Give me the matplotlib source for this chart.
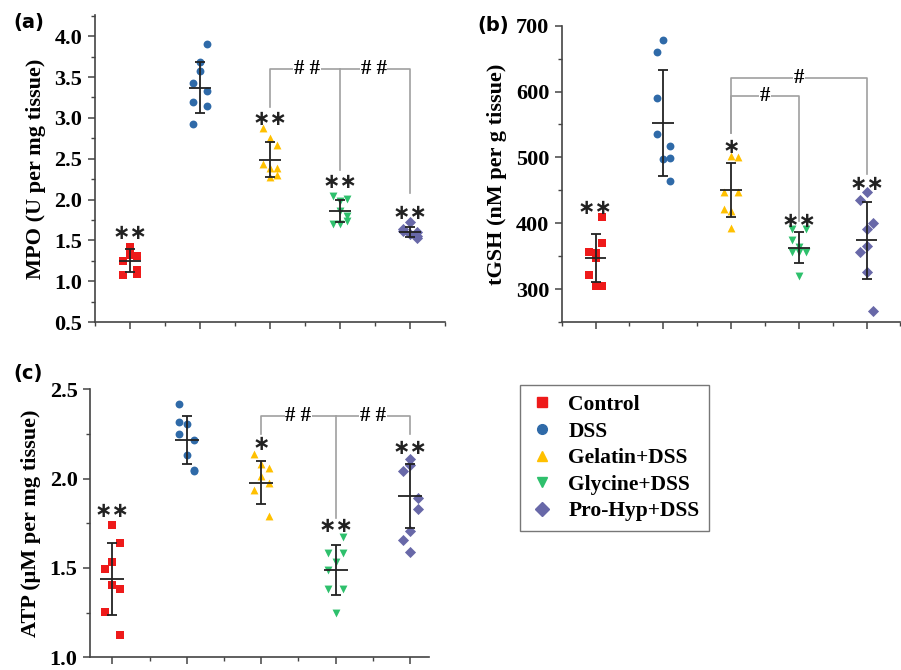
import numpy as np
import matplotlib
matplotlib.use("Agg")
import matplotlib.pyplot as plt
from matplotlib.ticker import MultipleLocator
from matplotlib.lines import Line2D

plt.rcParams['font.family'] = ['Liberation Serif', 'DejaVu Serif']
plt.rcParams['font.weight'] = 'bold'

groups = ["Control", "DSS", "Gelatin+DSS", "Glycine+DSS", "Pro-Hyp+DSS"]
colors = ["#EE1A1A", "#2F6AA8", "#FFC000", "#2EC06C", "#6868A8"]
markers = ["s", "o", "^", "v", "D"]

# (a) MPO, U per mg tissue
mpo_pts = [
    [1.42, 1.32, 1.31, 1.25, 1.14, 1.09, 1.07],
    [3.90, 3.69, 3.58, 3.43, 3.33, 3.20, 3.14, 2.92],
    [2.87, 2.75, 2.67, 2.43, 2.39, 2.39, 2.28, 2.30],
    [2.04, 2.01, 1.98, 1.86, 1.80, 1.74, 1.70, 1.70],
    [1.72, 1.64, 1.62, 1.60, 1.58, 1.55, 1.53],
]
mpo_mean = [1.25, 3.37, 2.49, 1.86, 1.60]
mpo_sd = [0.14, 0.31, 0.22, 0.135, 0.06]
mpo_sig = ["∗∗", "", "∗∗", "∗∗", "∗∗"]

# (b) tGSH, nM per g tissue
gsh_pts = [
    [410, 370, 357, 355, 347, 322, 304, 304],
    [678, 660, 590, 535, 517, 499, 497, 464],
    [502, 500, 448, 447, 422, 418, 393],
    [392, 392, 374, 364, 356, 356, 356, 320],
    [447, 436, 400, 392, 365, 356, 326, 267],
]
gsh_mean = [347, 552, 451, 363, 374]
gsh_sd = [36, 80, 41, 23, 58]
gsh_sig = ["∗∗", "", "∗", "∗∗", "∗∗"]

# (c) ATP, uM per mg tissue
atp_pts = [
    [1.738, 1.637, 1.534, 1.493, 1.405, 1.383, 1.253, 1.124],
    [2.415, 2.318, 2.307, 2.248, 2.216, 2.134, 2.049, 2.040],
    [2.137, 2.084, 2.060, 2.014, 1.977, 1.935, 1.788],
    [1.674, 1.586, 1.586, 1.534, 1.490, 1.380, 1.380, 1.249],
    [2.110, 2.078, 2.040, 1.889, 1.830, 1.705, 1.656, 1.590],
]
atp_mean = [1.438, 2.216, 1.976, 1.486, 1.904]
atp_sd = [0.20, 0.132, 0.12, 0.14, 0.18]
atp_sig = ["∗∗", "", "∗", "∗∗", "∗∗"]

# horizontal jitter of the points inside each group
mpo_dx = [[0, 0, 1, -1, 1, 1, -1],
          [1, 0, 0, -1, 1, -1, 1, -1],
          [-1, 0, 1, -1, 0, 1, 0, 1],
          [-1, 1, 0, 0, 1, 1, -1, 0],
          [0, -1, -1, 1, 0, 1, 1]]
gsh_dx = [[1, 1, -1, 0, 0, -1, 0, 1],
          [0, -1, -1, -1, 1, 1, 0, 1],
          [0, 1, -1, 1, -1, 0, 0],
          [-1, 1, -1, 0, -1, 0, 1, 0],
          [0, -1, 1, 0, 0, -1, 0, 1]]
atp_dx = [[0, 1, 0, -1, 0, 1, -1, 1],
          [-1, -1, 0, -1, 1, 0, 1, 1],
          [-1, 0, 1, 0, 1, -1, 1],
          [1, 1, -1, 0, -1, -1, 1, 0],
          [0, 0, -1, 1, 1, 0, -1, 0]]

LINE_GRAY = '#A0A0A0'
HASH_BOX = dict(facecolor='white', edgecolor='none', pad=0.5)


def draw_panel(ax, pts, dx, mean, sd, sig, sig_y, ylim, major, minor, ylabel):
    for i in range(5):
        x = i + 0.1 * np.array(dx[i])
        ax.scatter(x, pts[i], marker=markers[i], color=colors[i], s=32,
                   linewidths=0, zorder=3)
        ax.errorbar(i, mean[i], yerr=sd[i], fmt='none', ecolor='#222222',
                    elinewidth=1.3, capsize=3.5, capthick=1.3, zorder=4)
        ax.hlines(mean[i], i - 0.16, i + 0.16, color='#222222', lw=1.3, zorder=4)
        if sig[i]:
            ax.text(i, sig_y[i], sig[i], ha='center', va='center', fontsize=15,
                    family='DejaVu Sans', weight='bold', color='#222222', zorder=5)
    ax.set_xlim(-0.5, 4.5)
    ax.set_ylim(*ylim)
    ax.set_xticks(range(5))
    ax.set_xticklabels([])
    ax.xaxis.set_minor_locator(MultipleLocator(0.5))
    ax.yaxis.set_major_locator(MultipleLocator(major))
    ax.yaxis.set_minor_locator(MultipleLocator(minor))
    for s in ['top', 'right']:
        ax.spines[s].set_visible(False)
    for s in ['left', 'bottom']:
        ax.spines[s].set_color('#444444')
        ax.spines[s].set_linewidth(1.2)
    ax.tick_params(which='major', direction='out', length=5, width=1.1,
                   color='#444444', labelsize=16, pad=4)
    ax.tick_params(which='minor', direction='out', length=3, width=1.0,
                   color='#444444')
    ax.set_ylabel(ylabel, fontsize=16, fontweight='bold', labelpad=6)


def hash_label(ax, x, y, label):
    ax.text(x, y, label, ha='center', va='center', fontsize=15, weight='bold',
            bbox=HASH_BOX, zorder=3)


def bracket(ax, x0, x1, y, y0, y1, label, xt):
    ax.plot([x0, x0, x1, x1], [y0, y, y, y1], color=LINE_GRAY, lw=1.2, zorder=2)
    hash_label(ax, xt, y, label)


fig = plt.figure(figsize=(9.01, 6.70), dpi=100)
ax_a = fig.add_axes([0.1054, 0.5194, 0.3885, 0.4582])
ax_b = fig.add_axes([0.6234, 0.5194, 0.3760, 0.4422])
ax_c = fig.add_axes([0.0999, 0.0190, 0.3760, 0.4000])

draw_panel(ax_a, mpo_pts, mpo_dx, mpo_mean, mpo_sd, mpo_sig,
           [1.59, 0, 2.99, 2.21, 1.84], (0.5, 4.26), 0.5, 0.25,
           "MPO (U per mg tissue)")
bracket(ax_a, 2, 4, 3.60, 3.13, 2.08, "# #", 2.53)
ax_a.plot([3, 3], [3.60, 2.36], color=LINE_GRAY, lw=1.2, zorder=2)
hash_label(ax_a, 3.48, 3.60, "# #")

draw_panel(ax_b, gsh_pts, gsh_dx, gsh_mean, gsh_sd, gsh_sig,
           [423, 0, 516, 403, 459], (250, 700), 100, 50,
           "tGSH (nM per g tissue)")
bracket(ax_b, 2, 4, 621, 537, 475, "#", 3.0)
bracket(ax_b, 2, 3, 593, 537, 404, "#", 2.5)

draw_panel(ax_c, atp_pts, atp_dx, atp_mean, atp_sd, atp_sig,
           [1.816, 0, 2.193, 1.733, 2.174], (1.0, 2.5), 0.5, 0.25,
           "ATP (μM per mg tissue)")
ax_c.set_xlim(-0.3, 4.25)
bracket(ax_c, 2, 4, 2.349, 2.248, 2.248, "# #", 2.5)
ax_c.plot([3, 3], [2.349, 1.779], color=LINE_GRAY, lw=1.2, zorder=2)
hash_label(ax_c, 3.5, 2.349, "# #")

for lab, x, y in [("(a)", 0.015, 0.967), ("(b)", 0.530, 0.962), ("(c)", 0.015, 0.443)]:
    fig.text(x, y, lab, fontsize=14, fontweight='bold', family='DejaVu Sans',
             va='center', ha='left')

handles = [Line2D([], [], marker=m, color=c, linestyle='none', markersize=7)
           for m, c in zip(markers, colors)]
leg = fig.legend(handles, groups, loc='upper left', bbox_to_anchor=(0.577, 0.425),
                 prop=dict(family='Liberation Serif', weight='bold', size=15.5),
                 frameon=True, fancybox=False, edgecolor='#555555',
                 handletextpad=0.6, labelspacing=0.3, borderpad=0.45,
                 handlelength=1.2, borderaxespad=0)
leg.get_frame().set_linewidth(1.0)

fig.savefig("out.png", dpi=100)
